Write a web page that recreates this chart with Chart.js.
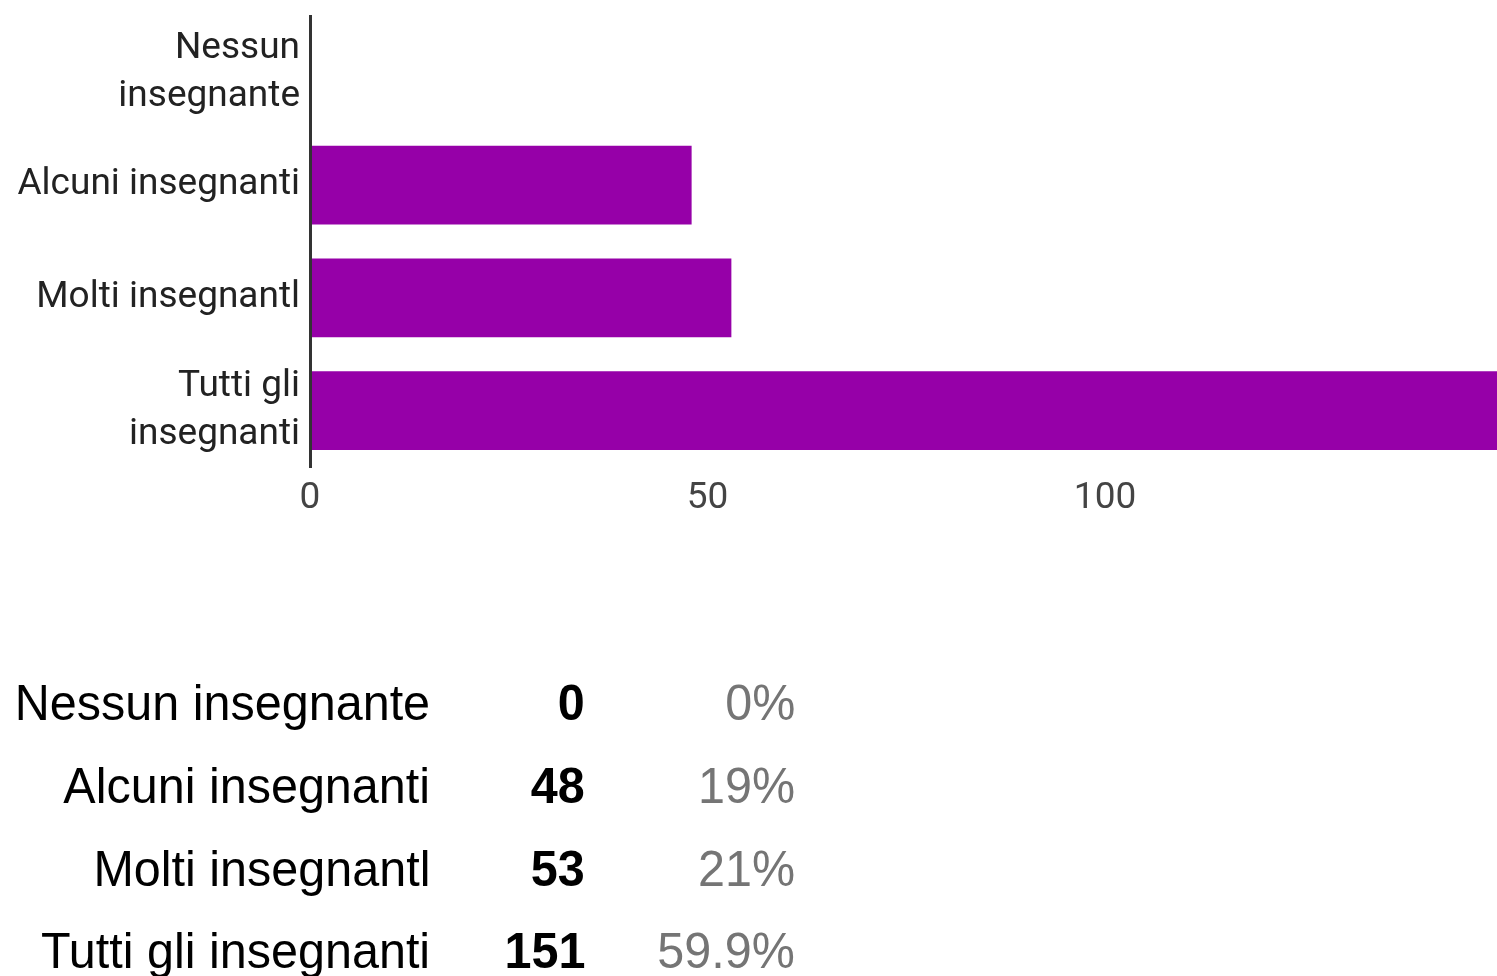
<!DOCTYPE html>
<html>
<head>
<meta charset="utf-8">
<script src="https://cdn.jsdelivr.net/npm/chart.js@4.4.1/dist/chart.umd.min.js"></script>
<style>
  html, body { margin: 0; padding: 0; background: #fff; overflow: hidden; }
  #wrap { position: relative; width: 1497px; height: 976px; }
  #chartBox { position: absolute; left: 0; top: 0; width: 1497px; height: 530px; }
  .cell { position: absolute; font-family: "Liberation Sans", Arial, sans-serif; font-size: 50px; line-height: 50px; white-space: nowrap; transform-origin: right center; transform: scaleX(0.97); }
  .lab { color: #000; }
  .num { color: #000; font-weight: bold; }
  .pct { color: #757575; }
</style>
</head>
<body>
<div id="wrap">
  <div id="chartBox"><canvas id="c"></canvas></div>
  <div id="table"></div>
</div>
<script>
// ---- data ----
const categories = ['Nessun insegnante', 'Alcuni insegnanti', 'Molti insegnantl', 'Tutti gli insegnanti'];
const axisLabels = [['Nessun', 'insegnante'], 'Alcuni insegnanti', 'Molti insegnantl', ['Tutti gli', 'insegnanti']];
const counts = [0, 48, 53, 151];
const percents = ['0%', '19%', '21%', '59.9%'];
const xTicks = [0, 50, 100];

// ---- chart ----
new Chart(document.getElementById('c'), {
  type: 'bar',
  data: {
    labels: axisLabels,
    datasets: [{
      data: counts,
      backgroundColor: '#9600a8',
      borderWidth: 0,
      barPercentage: 0.7,
      categoryPercentage: 1.0
    }]
  },
  options: {
    indexAxis: 'y',
    responsive: true,
    maintainAspectRatio: false,
    animation: false,
    layout: { padding: { top: 16, right: 0, bottom: 0, left: 0 } },
    plugins: { legend: { display: false }, tooltip: { enabled: false } },
    scales: {
      y: {
        grid: { display: false, drawTicks: false },
        border: { display: true, color: '#333333', width: 3, z: 1 },
        ticks: {
          color: '#222222',
          padding: 10,
          font: { family: 'Roboto', size: 37, lineHeight: 1.3 }
        },
        afterFit: (s) => { s.width = 310; s.paddingTop = 0; s.paddingBottom = 0; }
      },
      x: {
        min: 0,
        max: 149.3,
        grid: { display: false, drawTicks: false },
        border: { display: false },
        afterBuildTicks: (s) => { s.ticks = xTicks.map(v => ({ value: v })); },
        ticks: {
          color: '#444444',
          padding: 10,
          maxRotation: 0,
          font: { family: 'Roboto', size: 37 }
        },
        afterFit: (s) => { s.height = 63; s.paddingLeft = 0; s.paddingRight = 0; }
      }
    }
  }
});

// ---- table ----
const table = document.getElementById('table');
const baselines = [720, 803, 886, 968];
const cols = [
  { cls: 'lab', right: 430, vals: categories },
  { cls: 'num', right: 585, vals: counts.map(String) },
  { cls: 'pct', right: 795, vals: percents }
];
categories.forEach((_, i) => {
  cols.forEach(col => {
    const d = document.createElement('div');
    d.className = 'cell ' + col.cls;
    d.textContent = col.vals[i];
    d.style.right = (1497 - col.right) + 'px';
    d.style.top = (baselines[i] - 42.3) + 'px';
    table.appendChild(d);
  });
});
</script>
</body>
</html>
